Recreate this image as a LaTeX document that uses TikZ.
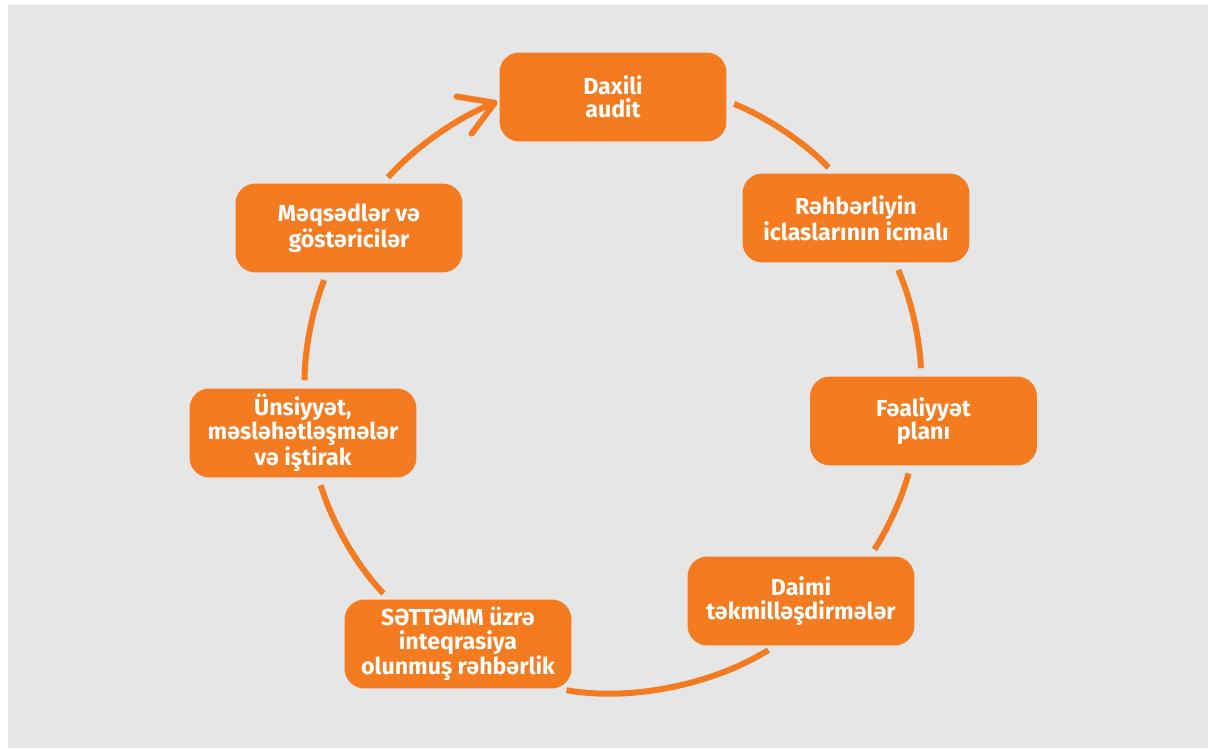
\documentclass[tikz,border=0pt]{standalone}
\usepackage{fontspec}
\newfontfamily\boxfont{Fira Sans}
\usetikzlibrary{arrows.meta}
\definecolor{pagegray}{HTML}{E6E6E6}
\definecolor{cycorange}{HTML}{F47B20}

\begin{document}
\begin{tikzpicture}[x=0.02cm, y=0.02cm,
  stage/.style={rectangle, rounded corners=0.4cm, fill=cycorange, text=white,
    minimum width=4.54cm, minimum height=1.78cm, inner sep=0pt, align=center,
    font=\boxfont\bfseries\fontsize{13.2}{13.3}\selectfont},
  link/.style={draw=cycorange, line width=3.4pt, looseness=0.85,
    shorten <=4.5pt, shorten >=4.5pt}]

  % Canvas and grey panel
  \useasboundingbox (0,0) rectangle (1208,748);
  \fill[pagegray] (8,0) rectangle (1208,743);

  % Stages of the cycle
  \node[stage] (audit) at (613,651) {Daxili\\audit};
  \node[stage] (icmal) at (856,530) {Rəhbərliyin\\iclaslarının icmalı};
  \node[stage] (plan) at (923.5,327) {Fəaliyyət\\planı};
  \node[stage] (tekmil) at (801,147) {Daimi\\təkmilləşdirmələr};
  \node[stage] (setemm) at (458,104) {SƏTTƏMM üzrə\\inteqrasiya\\olunmuş rəhbərlik};
  \node[stage] (unsiyyet) at (303,315) {Ünsiyyət,\\məsləhətləşmələr\\və iştirak};
  \node[stage] (meqsed) at (349,520) {Məqsədlər və\\göstəricilər};

  % Arcs between the stages (one circle, clockwise)
  \draw[link] (audit.-2) to[out=-22, in=134] (icmal.116);
  \draw[link] (icmal.-49) to[out=-66, in=92] (plan.93);
  \draw[link] (plan.-106) to[out=-105, in=57] (tekmil.33);
  \draw[link] (tekmil.-120) to[out=-148, in=-10] (setemm.-24);
  \draw[link] (setemm.147) to[out=134, in=-73] (unsiyyet.-71);
  \draw[link] (unsiyyet.88) to[out=90, in=-112] (meqsed.-116);

  % Closing arc with arrow back to the audit
  \draw[link, shorten >=1pt, -{Straight Barb[round, length=0.66cm, width=0.8cm]}]
    (meqsed.53) to[out=48, in=202] (audit.182);
\end{tikzpicture}
\end{document}
